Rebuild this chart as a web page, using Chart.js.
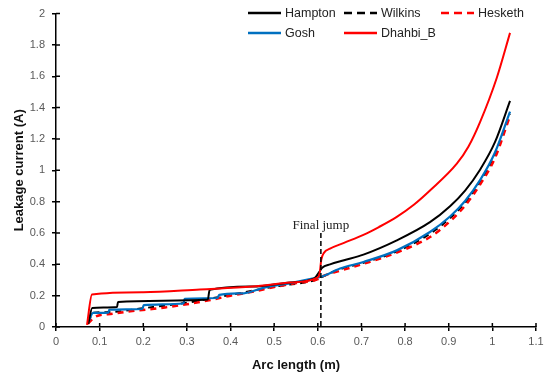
<!DOCTYPE html>
<html>
<head>
<meta charset="utf-8">
<script src="https://cdn.jsdelivr.net/npm/chart.js@4.4.1/dist/chart.umd.min.js"></script>
<style>
  html, body { margin: 0; padding: 0; background: #fff; }
  #wrap { width: 550px; height: 376px; }
</style>
</head>
<body>
<div id="wrap"><canvas id="leakChart" width="550" height="376"></canvas></div>
<script>
// Data (arc length in m, leakage current in A)
const hamptonX = [0.074, 0.083, 0.14, 0.142, 0.348, 0.352, 0.45, 0.537, 0.592, 0.603, 0.61, 0.628, 0.66, 0.7045, 0.781, 0.857, 0.903, 0.9375, 0.9718, 1.0062, 1.0405];
const hamptonY = [0.02, 0.122, 0.128, 0.16, 0.175, 0.237, 0.258, 0.284, 0.31, 0.35, 0.378, 0.4, 0.426, 0.462, 0.553, 0.669, 0.771, 0.871, 1.004, 1.181, 1.443];

const wilkinsX = [0.074, 0.085, 0.12, 0.2, 0.3, 0.4, 0.5, 0.6, 0.61, 0.651, 0.7045, 0.781, 0.857, 0.903, 0.9375, 0.9718, 1.0062, 1.04];
const wilkinsY = [0.03, 0.09, 0.095, 0.12, 0.155, 0.205, 0.258, 0.305, 0.32, 0.368, 0.41, 0.482, 0.595, 0.695, 0.792, 0.925, 1.1, 1.36];

const heskethX = [0.073, 0.09, 0.13, 0.17, 0.22, 0.25, 0.3, 0.35, 0.4, 0.45, 0.5, 0.55, 0.6, 0.61, 0.65, 0.7045, 0.781, 0.857, 0.903, 0.9375, 0.9718, 1.0062, 1.038];
const heskethY = [0.02, 0.065, 0.085, 0.1, 0.115, 0.125, 0.145, 0.17, 0.2, 0.225, 0.255, 0.28, 0.305, 0.322, 0.358, 0.403, 0.475, 0.574, 0.675, 0.775, 0.909, 1.08, 1.328];

const goshX = [0.074, 0.085, 0.12, 0.122, 0.198, 0.201, 0.292, 0.295, 0.37, 0.374, 0.43, 0.475, 0.537, 0.59, 0.609, 0.651, 0.7045, 0.781, 0.857, 0.903, 0.9375, 0.9718, 1.0062, 1.0405];
const goshY = [0.03, 0.09, 0.092, 0.11, 0.115, 0.14, 0.15, 0.18, 0.185, 0.205, 0.215, 0.25, 0.28, 0.31, 0.322, 0.373, 0.415, 0.489, 0.606, 0.705, 0.804, 0.937, 1.115, 1.375];

const dhahbiX = [0.071, 0.0825, 0.2, 0.33, 0.45, 0.537, 0.598, 0.604, 0.608, 0.614, 0.628, 0.66, 0.7045, 0.74, 0.781, 0.82, 0.857, 0.9185, 0.945, 0.972, 1.01, 1.0405];
const dhahbiY = [0.013, 0.208, 0.222, 0.24, 0.258, 0.284, 0.314, 0.34, 0.43, 0.473, 0.5, 0.537, 0.588, 0.638, 0.703, 0.78, 0.871, 1.042, 1.15, 1.309, 1.589, 1.877];

const xTicks = [0, 0.1, 0.2, 0.3, 0.4, 0.5, 0.6, 0.7, 0.8, 0.9, 1, 1.1];
const yTicks = [0, 0.2, 0.4, 0.6, 0.8, 1, 1.2, 1.4, 1.6, 1.8, 2];

const finalJumpX = 0.607;
const finalJumpTop = 0.6;

function toPoints(xs, ys) {
    return xs.map((x, i) => ({ x: x, y: ys[i] }));
}

const legendItems = [
    { label: 'Hampton', color: '#000000', dash: [], col: 0, row: 0 },
    { label: 'Wilkins', color: '#000000', dash: [8, 5], col: 1, row: 0 },
    { label: 'Hesketh', color: '#ff0000', dash: [8, 5], col: 2, row: 0 },
    { label: 'Gosh', color: '#0070c0', dash: [], col: 0, row: 1 },
    { label: 'Dhahbi_B', color: '#ff0000', dash: [], col: 1, row: 1 }
];

// tick marks that cross the axis + dashed marker + legend
const extrasPlugin = {
    id: 'extras',
    afterDraw(chart) {
        const ctx = chart.ctx;
        const xs = chart.scales.x;
        const ys = chart.scales.y;
        ctx.save();

        // inner half of the tick marks
        ctx.strokeStyle = '#000';
        ctx.lineWidth = 1.5;
        ctx.beginPath();
        xTicks.forEach(t => {
            const px = xs.getPixelForValue(t);
            ctx.moveTo(px, ys.bottom);
            ctx.lineTo(px, ys.bottom - 4);
        });
        yTicks.forEach(t => {
            const py = ys.getPixelForValue(t);
            ctx.moveTo(xs.left, py);
            ctx.lineTo(xs.left + 4, py);
        });
        ctx.stroke();

        // final jump marker
        const jx = xs.getPixelForValue(finalJumpX);
        ctx.setLineDash([5, 3]);
        ctx.lineWidth = 1.5;
        ctx.beginPath();
        ctx.moveTo(jx, ys.getPixelForValue(finalJumpTop));
        ctx.lineTo(jx, ys.getPixelForValue(0));
        ctx.stroke();
        ctx.setLineDash([]);
        ctx.fillStyle = '#222';
        ctx.font = '13px "Liberation Serif"';
        ctx.textAlign = 'center';
        ctx.textBaseline = 'bottom';
        ctx.fillText('Final jump', jx, ys.getPixelForValue(finalJumpTop) - 1);

        // legend
        const colX = [248, 344, 441];
        const rowY = [13, 33];
        ctx.font = '12.5px "Liberation Sans"';
        ctx.textAlign = 'left';
        ctx.textBaseline = 'middle';
        legendItems.forEach(item => {
            const x0 = colX[item.col];
            const y0 = rowY[item.row];
            ctx.strokeStyle = item.color;
            ctx.lineWidth = 2.5;
            ctx.setLineDash(item.dash);
            ctx.beginPath();
            ctx.moveTo(x0, y0);
            ctx.lineTo(x0 + 33, y0);
            ctx.stroke();
            ctx.setLineDash([]);
            ctx.fillStyle = '#222';
            ctx.fillText(item.label, x0 + 37, y0 + 1);
        });
        ctx.restore();
    }
};

const fmt = v => String(Number(v.toFixed(1)));
const tickFont = { family: '"Liberation Sans", sans-serif', size: 11 };
const titleFont = { family: '"Liberation Sans", sans-serif', size: 13, weight: 'bold' };

new Chart(document.getElementById('leakChart'), {
    type: 'scatter',
    data: {
        datasets: [
            { label: 'Dhahbi_B', data: toPoints(dhahbiX, dhahbiY), borderColor: '#ff0000', borderWidth: 2, order: 0 },
            { label: 'Hampton', data: toPoints(hamptonX, hamptonY), borderColor: '#000000', borderWidth: 2, order: 1 },
            { label: 'Gosh', data: toPoints(goshX, goshY), borderColor: '#0070c0', borderWidth: 2.2, order: 2 },
            { label: 'Hesketh', data: toPoints(heskethX, heskethY), borderColor: '#ff0000', borderWidth: 2.5, borderDash: [6, 5], order: 3 },
            { label: 'Wilkins', data: toPoints(wilkinsX, wilkinsY), borderColor: '#000000', borderWidth: 2, borderDash: [6, 5], order: 4 }
        ].map(d => Object.assign(d, { showLine: true, pointRadius: 0, fill: false, cubicInterpolationMode: 'monotone' }))
    },
    options: {
        responsive: false,
        animation: false,
        layout: { padding: { left: 0, right: 14, top: 12, bottom: 0 } },
        plugins: { legend: { display: false }, tooltip: { enabled: false } },
        scales: {
            x: {
                type: 'linear', min: 0, max: 1.1,
                afterBuildTicks: s => { s.ticks = xTicks.map(v => ({ value: v })); },
                afterFit: s => { s.height = 49; },
                ticks: { color: '#595959', font: tickFont, padding: 4, maxRotation: 0, callback: fmt },
                grid: { drawOnChartArea: false, drawTicks: true, tickLength: 4, color: '#000', lineWidth: 1.5 },
                border: { color: '#000', width: 1.5 },
                title: { display: true, text: 'Arc length (m)', color: '#111', font: titleFont, padding: { top: 0, bottom: 3 } }
            },
            y: {
                type: 'linear', min: 0, max: 2,
                afterBuildTicks: s => { s.ticks = yTicks.map(v => ({ value: v })); },
                afterFit: s => { s.width = 56; },
                ticks: { color: '#595959', font: tickFont, padding: 7, callback: fmt },
                grid: { drawOnChartArea: false, drawTicks: true, tickLength: 4, color: '#000', lineWidth: 1.5 },
                border: { color: '#000', width: 1.5 },
                title: { display: true, text: 'Leakage current (A)', color: '#111', font: titleFont, padding: { top: 12, bottom: 0 } }
            }
        }
    },
    plugins: [extrasPlugin]
});
</script>
</body>
</html>
